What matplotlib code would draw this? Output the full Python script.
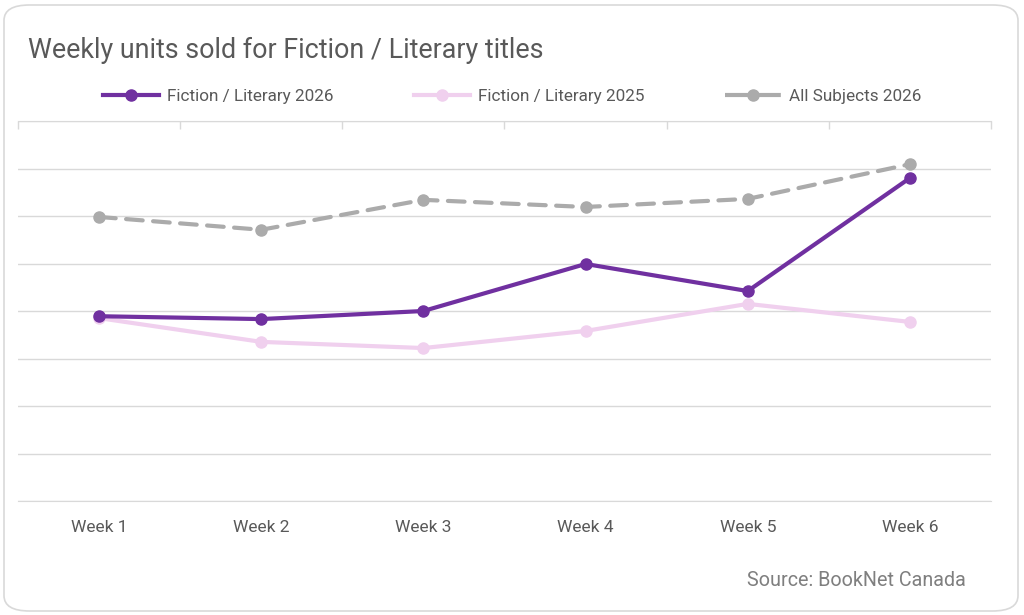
import numpy as np
import matplotlib.pyplot as plt
from matplotlib.patches import FancyBboxPatch
from matplotlib.lines import Line2D

weeks = ["Week 1", "Week 2", "Week 3", "Week 4", "Week 5", "Week 6"]
fiction_2026 = [3.89, 3.83, 4.00, 4.99, 4.42, 6.80]
fiction_2025 = [3.85, 3.35, 3.22, 3.58, 4.15, 3.77]
all_subjects_2026 = [5.98, 5.71, 6.34, 6.19, 6.36, 7.09]

PURPLE = "#7030A0"
PINK = "#F0D0EE"
GREY = "#ABABAB"
GRID = "#D9D9D9"
TEXT = "#595959"

plt.rcParams["font.family"] = ["Roboto", "DejaVu Sans"]

fig = plt.figure(figsize=(10.24, 6.15), dpi=100)

# rounded frame around the whole card
frame = FancyBboxPatch((4 / 1024, 4 / 615), 1014 / 1024, 606 / 615,
                       boxstyle="round,pad=0,rounding_size=0.025",
                       transform=fig.transFigure, facecolor="white",
                       edgecolor="#D9D9D9", linewidth=1.2, zorder=-10)
fig.patches.append(frame)

ax = fig.add_axes([18 / 1024, 1 - 501 / 615, (991 - 18) / 1024, (501 - 121) / 615])
ax.set_facecolor("none")
x = np.arange(len(weeks))

ax.plot(x, fiction_2025, color=PINK, lw=3, marker="o", ms=8, zorder=3,
        label="Fiction / Literary 2025", solid_capstyle="round")
ax.plot(x, fiction_2026, color=PURPLE, lw=3, marker="o", ms=8, zorder=4,
        label="Fiction / Literary 2026", solid_capstyle="round")
ax.plot(x, all_subjects_2026, color=GREY, lw=3, marker="o", ms=8, zorder=2,
        dashes=(4, 2.5), dash_capstyle="round", label="All Subjects 2026")

ax.set_xlim(-0.5, len(weeks) - 0.5)
ax.set_ylim(0, 8)
ax.set_yticks(np.arange(0, 9))
ax.yaxis.grid(True, color=GRID, lw=1)
ax.set_axisbelow(True)
ax.tick_params(axis="y", left=False, labelleft=False)

ax.set_xticks(x)
ax.set_xticklabels(weeks, fontsize=12.5, color=TEXT)
ax.tick_params(axis="x", which="major", bottom=False, top=False, pad=10)
ax.set_xticks(np.arange(-0.5, len(weeks)), minor=True)
ax.tick_params(axis="x", which="minor", bottom=False, top=True, direction="in",
               length=6, color=GRID, width=1)

for side in ["left", "right"]:
    ax.spines[side].set_visible(False)
ax.spines["top"].set_color(GRID)
ax.spines["bottom"].set_color(GRID)

fig.text(28 / 1024, 1 - 58 / 615, "Weekly units sold for Fiction / Literary titles",
         fontsize=19.4, color=TEXT, va="baseline", ha="left")

handles = [
    Line2D([], [], color=PURPLE, lw=3, marker="o", ms=8),
    Line2D([], [], color=PINK, lw=3, marker="o", ms=8),
    Line2D([], [], color=GREY, lw=3, marker="o", ms=8, dashes=(5.8, 1.8)),
]
labels = ["Fiction / Literary 2026", "Fiction / Literary 2025", "All Subjects 2026"]
fig.legend(handles, labels, loc="center", bbox_to_anchor=(512 / 1024, 1 - 96 / 615),
           ncol=3, frameon=False, fontsize=12.3, labelcolor=TEXT,
           handlelength=3.3, handletextpad=0.45, columnspacing=4.7)

fig.text(966 / 1024, 1 - 586 / 615, "Source: BookNet Canada", fontsize=14.2,
         color="#7F7F7F", ha="right", va="baseline")

fig.savefig("out.png", dpi=100)
